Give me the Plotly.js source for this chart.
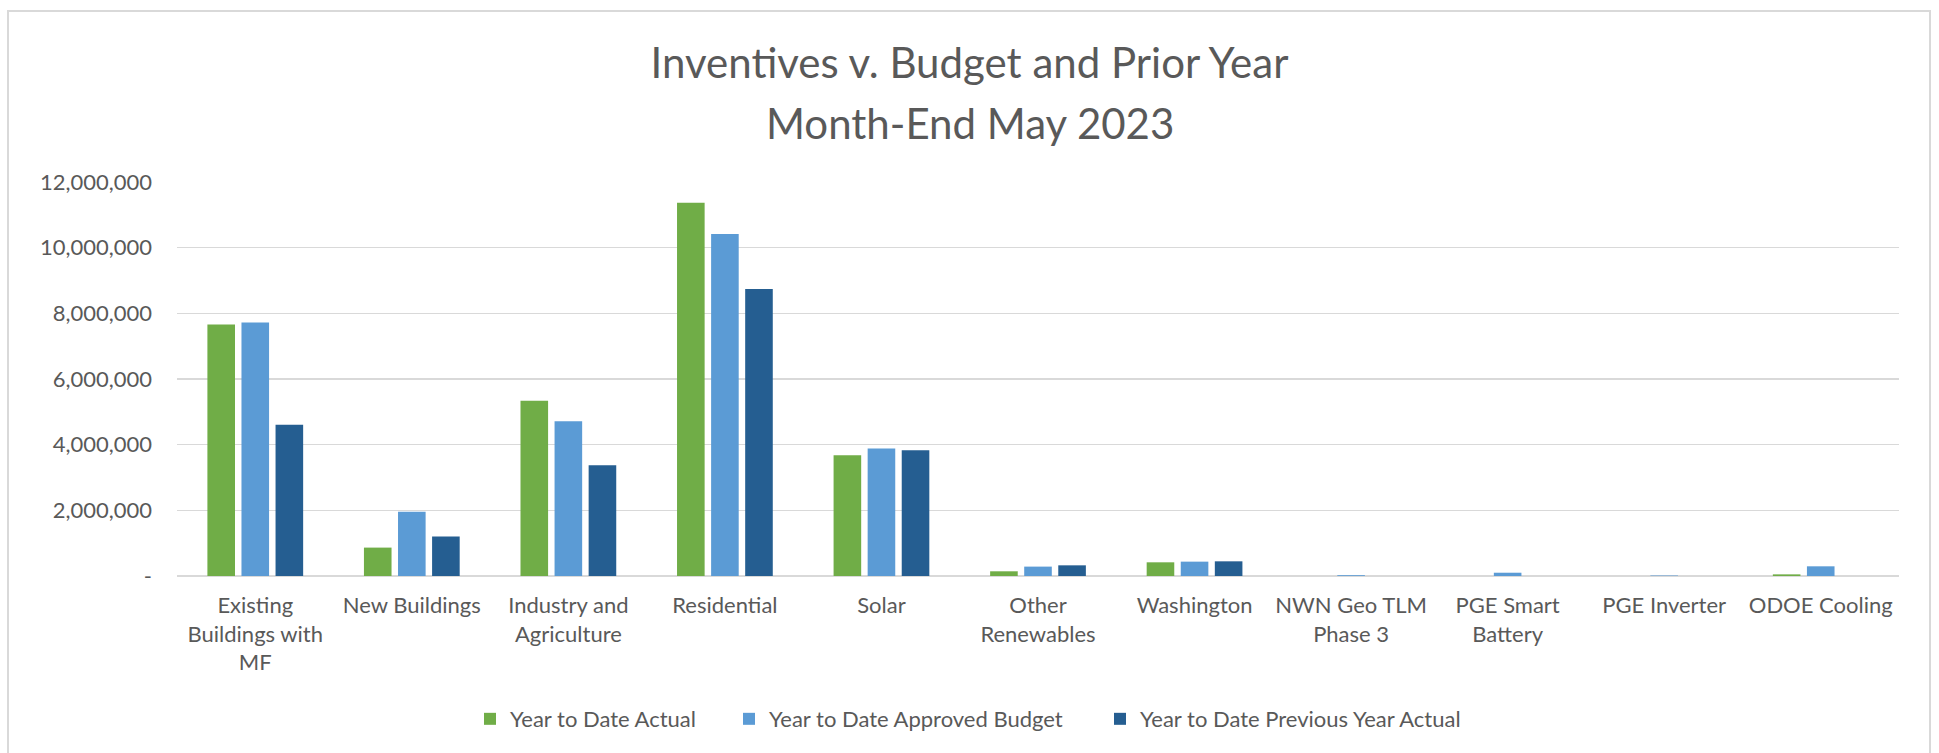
<!DOCTYPE html>
<html>
<head>
<meta charset="utf-8">
<script src="https://cdn.plot.ly/plotly-3.0.1.min.js"></script>
<style>
  html, body { margin: 0; padding: 0; background: #ffffff; }
  #chart { width: 1939px; height: 753px; }
  #frame { position: absolute; left: 7px; top: 10px; width: 1920px; height: 800px;
           border: 2px solid #D9D9D9; border-bottom: none; pointer-events: none; }
</style>
</head>
<body>
<div id="chart"></div>
<div id="frame"></div>
<script>
const categories = [
  "Existing<br>Buildings with<br>MF",
  "New Buildings",
  "Industry and<br>Agriculture",
  "Residential",
  "Solar",
  "Other<br>Renewables",
  "Washington",
  "NWN Geo TLM<br>Phase 3",
  "PGE Smart<br>Battery",
  "PGE Inverter",
  "ODOE Cooling"
];
const seriesNames = ["Year to Date Actual", "Year to Date Approved Budget", "Year to Date Previous Year Actual"];
const ytdActual   = [7660000, 865000, 5340000, 11370000, 3680000, 143000, 417000, 0, 0, 0, 50000];
const ytdBudget   = [7720000, 1960000, 4710000, 10420000, 3880000, 286000, 437000, 25000, 100000, 15000, 295000];
const ytdPrevYear = [4610000, 1200000, 3370000, 8740000, 3830000, 325000, 447000, 0, 0, 0, 0];
const yTickVals = [0, 2000000, 4000000, 6000000, 8000000, 10000000, 12000000];
const yTickText = ["-", "2,000,000", "4,000,000", "6,000,000", "8,000,000", "10,000,000", "12,000,000"];
const titleLine1 = "Inventives v. Budget and Prior Year";
const titleLine2 = "Month-End May 2023";

const colors = ["#70AD47", "#5B9BD5", "#255E91"];
const FONT = "Lato, 'Open Sans', sans-serif";
const TXT = "#595959";

const traces = [ytdActual, ytdBudget, ytdPrevYear].map((vals, i) => ({
  type: "bar",
  name: seriesNames[i],
  x: categories,
  y: vals,
  marker: { color: colors[i] },
  legend: i === 0 ? "legend" : (i === 1 ? "legend2" : "legend3"),
  hoverinfo: "x+y+name"
}));

function legendAt(x) {
  return {
    x: x, xref: "paper", xanchor: "left",
    y: -0.363, yref: "paper", yanchor: "middle",
    orientation: "h",
    font: { family: FONT, size: 22, color: TXT },
    bgcolor: "rgba(0,0,0,0)", borderwidth: 0
  };
}

const layout = {
  width: 1939, height: 753,
  paper_bgcolor: "#ffffff", plot_bgcolor: "#ffffff",
  margin: { l: 177, r: 40, t: 182, b: 177, pad: 0 },
  font: { family: FONT, color: TXT },
  title: {
    text: titleLine1,
    x: 0.5, xref: "container", xanchor: "center",
    y: 1 - 63 / 753, yref: "container", yanchor: "middle",
    font: { family: FONT, size: 42, color: TXT }
  },
  annotations: [{
    text: titleLine2, showarrow: false,
    xref: "paper", x: (969.5 - 177) / 1722, xanchor: "center",
    yref: "paper", y: (576 - 123) / 394, yanchor: "middle",
    font: { family: FONT, size: 42, color: TXT }
  }],
  barmode: "group",
  bargap: 0.347,
  bargroupgap: 0.19,
  xaxis: {
    tickfont: { family: FONT, size: 22, color: TXT },
    showgrid: false, showline: false, ticks: "",
    ticklabelstandoff: 14,
    fixedrange: true
  },
  yaxis: {
    range: [0, 12000000],
    tickvals: yTickVals, ticktext: yTickText,
    tickfont: { family: FONT, size: 22, color: TXT },
    showgrid: true, gridcolor: "#D9D9D9", gridwidth: 1.5,
    zeroline: true, zerolinecolor: "#D9D9D9", zerolinewidth: 2,
    showline: false, ticks: "",
    ticklabelstandoff: 24,
    fixedrange: true
  },
  showlegend: true,
  legend: legendAt((470 - 177) / 1722),
  legend2: legendAt((729 - 177) / 1722),
  legend3: legendAt((1100 - 177) / 1722)
};

Plotly.newPlot("chart", traces, layout, { displayModeBar: false, staticPlot: true });
</script>
</body>
</html>
